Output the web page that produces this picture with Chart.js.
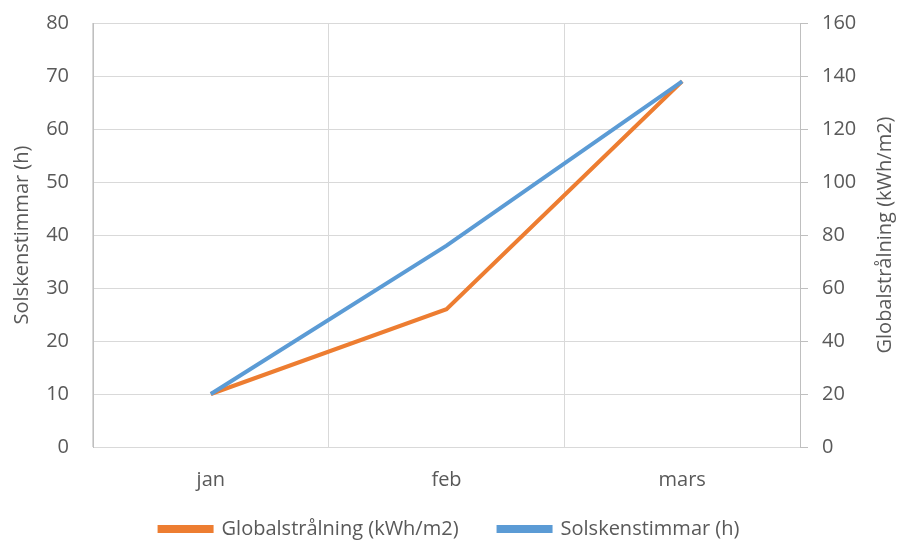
<!DOCTYPE html>
<html>
<head>
<meta charset="utf-8">
<script src="https://cdn.jsdelivr.net/npm/chart.js@4"></script>
<style>
  html, body { margin: 0; padding: 0; background: #fff; }
  #wrap { width: 899px; height: 545px; }
</style>
</head>
<body>
<div id="wrap"><canvas id="chart"></canvas></div>
<script>
// data
const categories = ["jan", "feb", "mars"];
const globalstralning = [20, 52, 138];   // kWh/m2, right axis
const solskenstimmar = [10, 38, 69];     // h, left axis

const textColor = "#595959";
const gridColor = "#d9d9d9";
const axisColor = "#bfbfbf";
const font = { family: "'Open Sans', sans-serif", size: 20 };
const rightTitle = "Globalstrålning (kWh/m2)";

// right axis title reads bottom-to-top like in Excel, so draw it ourselves
const rightTitlePlugin = {
  id: "rightTitle",
  afterDraw(chart) {
    const c = chart.ctx;
    const area = chart.chartArea;
    c.save();
    c.translate(885, (area.top + area.bottom) / 2);
    c.rotate(-Math.PI / 2);
    c.fillStyle = textColor;
    c.font = `${font.size}px ${font.family}`;
    c.textAlign = "center";
    c.textBaseline = "middle";
    c.fillText(rightTitle, 0, 0);
    c.restore();
  }
};

// fixed axis widths; tick padding would otherwise also push the plot top down
const fixY = (width) => (scale) => {
  scale.width = width;
  scale.paddingTop = 0;
  scale.paddingBottom = 0;
};

const ctx = document.getElementById("chart").getContext("2d");

new Chart(ctx, {
  type: "line",
  data: {
    labels: categories,
    datasets: [
      {
        label: "Globalstrålning (kWh/m2)",
        data: globalstralning,
        yAxisID: "yRight",
        borderColor: "#ed7d31",
        backgroundColor: "#ed7d31",
        borderWidth: 4,
        pointRadius: 0,
        tension: 0,
        order: 2
      },
      {
        label: "Solskenstimmar (h)",
        data: solskenstimmar,
        yAxisID: "yLeft",
        borderColor: "#5b9bd5",
        backgroundColor: "#5b9bd5",
        borderWidth: 4,
        pointRadius: 0,
        tension: 0,
        order: 1
      }
    ]
  },
  options: {
    responsive: true,
    maintainAspectRatio: false,
    animation: false,
    layout: { padding: { top: 23, left: 0, right: 0, bottom: 0 } },
    plugins: {
      tooltip: { enabled: false },
      legend: {
        position: "bottom",
        maxHeight: 66,
        labels: {
          color: textColor,
          font: font,
          boxWidth: 52,
          boxHeight: 4,
          padding: 40,
          sort: (a, b) => a.datasetIndex - b.datasetIndex
        }
      }
    },
    scales: {
      x: {
        offset: true,
        grid: { offset: true, color: gridColor, drawTicks: false },
        border: { color: gridColor },
        ticks: { color: textColor, font: font, padding: 21 },
        afterFit: (scale) => {
          scale.height = 32;
          // labels sit below the short axis box, so don't clip them to it
          scale._computeLabelArea = () => null;
        }
      },
      yLeft: {
        position: "left",
        min: 0,
        max: 80,
        ticks: { stepSize: 10, color: textColor, font: font, padding: 24 },
        grid: { color: gridColor, drawTicks: false },
        border: { color: axisColor },
        title: {
          display: true,
          text: "Solskenstimmar (h)",
          color: textColor,
          font: font,
          padding: { top: 10, bottom: 0 }
        },
        afterFit: fixY(93)
      },
      yRight: {
        position: "right",
        min: 0,
        max: 160,
        ticks: { stepSize: 20, color: textColor, font: font, padding: 14 },
        grid: { drawOnChartArea: false, color: axisColor, tickLength: 8 },
        border: { color: axisColor },
        afterFit: fixY(99)
      }
    }
  },
  plugins: [rightTitlePlugin]
});
</script>
</body>
</html>
